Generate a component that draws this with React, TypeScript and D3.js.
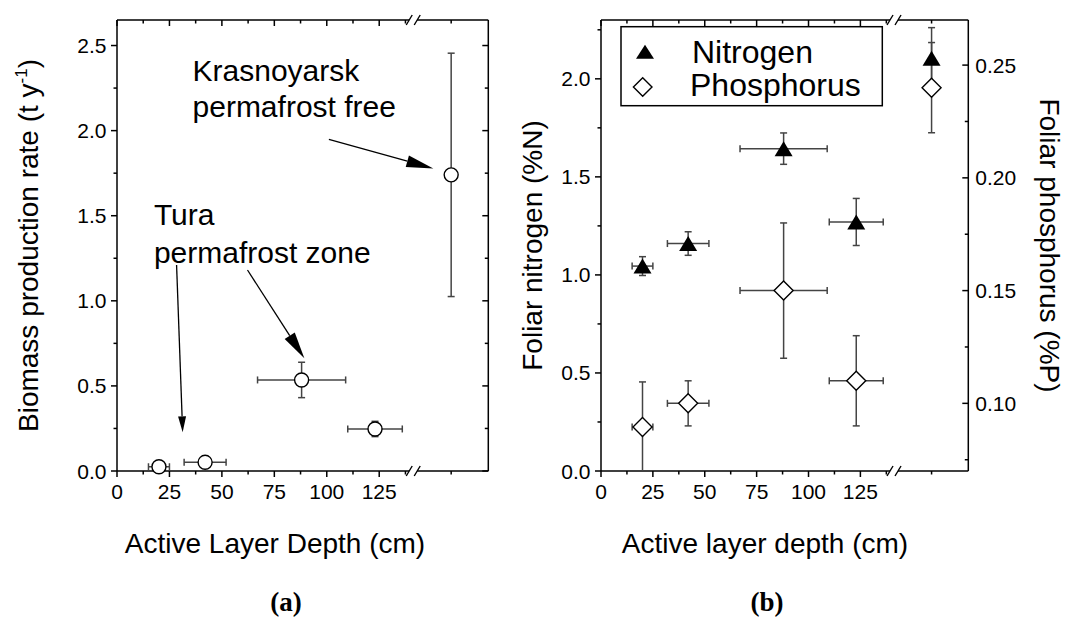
import React from 'react';
import * as d3 from 'd3';

// ---------------- data ----------------
const depthTicks = [0, 25, 50, 75, 100, 125];
const siteDepth = [20, 42, 88, 123];
const siteDepthErr = [5, 10, 21, 13];
const permafrostFreeX = 159.3; // plotted beyond the axis break
const biomass = [0.025, 0.051, 0.535, 0.247, 1.74];
const biomassErr = [0.015, 0.02, 0.104, 0.045, 0.715];
const nitrogen = [1.045, 1.16, 1.644, 1.27, 2.105];
const nitrogenErr = [0.048, 0.06, 0.08, 0.12, 0.156];
const phosphorus = [0.0895, 0.1, 0.15, 0.11, 0.24];
const phosphorusErr = [0.02, 0.01, 0.03, 0.02, 0.02];
const biomassTicks = [0, 0.5, 1.0, 1.5, 2.0, 2.5];
const nitrogenTicks = [0, 0.5, 1.0, 1.5, 2.0];
const phosphorusTicks = [0.1, 0.15, 0.2, 0.25];
const legendLabels = ['Nitrogen', 'Phosphorus'];

// ---------------- layout ----------------
const W = 1065;
const H = 621;
const TOP = 20;
const BOTTOM = 471;
const X_MAX = 177;
const BREAK_AT = 141.2;
const FONT = "'Liberation Sans', Arial, Helvetica, sans-serif";
const SERIF = "'Liberation Serif', 'Times New Roman', serif";
const MAJ = 6;
const MIN = 3.5;
const AX = '#000';
const ERR = '#444';

type Scale = d3.ScaleLinear<number, number>;

function xPoints(): number[] {
  return [...siteDepth, permafrostFreeX];
}

function minorOf(ticks: number[], lo: number, hi: number): number[] {
  const step = (ticks[1] - ticks[0]) / 2;
  const out: number[] = [];
  for (let v = ticks[0] - step; v <= hi + 1e-9; v += step) {
    if (v < lo - 1e-9) continue;
    if (ticks.some((t) => Math.abs(t - v) < 1e-9)) continue;
    out.push(v);
  }
  return out;
}

function BrokenXAxis({ x, y, dir }: { x: Scale; y: number; dir: number }) {
  const [r0, r1] = x.range();
  const bx = x(BREAK_AT);
  const g1 = bx - 4;
  const g2 = bx + 4;
  const minors = minorOf(depthTicks, 0, BREAK_AT - 2);
  return (
    <g>
      <line x1={r0} x2={g1} y1={y} y2={y} stroke={AX} strokeWidth={1.5} />
      <line x1={g2} x2={r1} y1={y} y2={y} stroke={AX} strokeWidth={1.5} />
      {[g1, g2].map((gx, i) => (
        <line key={i} x1={gx - 3} y1={y + 5} x2={gx + 3} y2={y - 5} stroke={AX} strokeWidth={1.4} />
      ))}
      {depthTicks.map((t) => (
        <line key={'M' + t} x1={x(t)} x2={x(t)} y1={y} y2={y + dir * MAJ} stroke={AX} strokeWidth={1.5} />
      ))}
      {minors.map((t) => (
        <line key={'m' + t} x1={x(t)} x2={x(t)} y1={y} y2={y + dir * MIN} stroke={AX} strokeWidth={1.5} />
      ))}
      <line x1={x(permafrostFreeX)} x2={x(permafrostFreeX)} y1={y} y2={y + dir * MIN} stroke={AX} strokeWidth={1.5} />
    </g>
  );
}

function YAxis({ y, ticks, xPos, dir, labels, labelSide, fmt }: {
  y: Scale; ticks: number[]; xPos: number; dir: number; labels: boolean; labelSide: number; fmt: (v: number) => string;
}) {
  const [d0, d1] = y.domain();
  const minors = minorOf(ticks, d0, d1);
  return (
    <g>
      <line x1={xPos} x2={xPos} y1={TOP} y2={BOTTOM} stroke={AX} strokeWidth={1.5} />
      {ticks.map((t) => (
        <line key={'M' + t} x1={xPos} x2={xPos + dir * MAJ} y1={y(t)} y2={y(t)} stroke={AX} strokeWidth={1.5} />
      ))}
      {minors.map((t) => (
        <line key={'m' + t} x1={xPos} x2={xPos + dir * MIN} y1={y(t)} y2={y(t)} stroke={AX} strokeWidth={1.5} />
      ))}
      {labels &&
        ticks.map((t) => (
          <text
            key={'L' + t}
            x={xPos + (labelSide < 0 ? -10.5 : 7)}
            y={y(t) + 7.5}
            textAnchor={labelSide < 0 ? 'end' : 'start'}
            fontSize={21}
            fontFamily={FONT}
          >
            {fmt(t)}
          </text>
        ))}
    </g>
  );
}

function ErrorBars({ cx, cy, ex0, ex1, ey0, ey1 }: { cx: number; cy: number; ex0?: number; ex1?: number; ey0: number; ey1: number }) {
  const c = 3.5;
  return (
    <g stroke={ERR} strokeWidth={1.5}>
      <line x1={cx} x2={cx} y1={ey0} y2={ey1} />
      {ey0 > TOP && ey0 < BOTTOM && <line x1={cx - c} x2={cx + c} y1={ey0} y2={ey0} />}
      {ey1 > TOP && ey1 < BOTTOM && <line x1={cx - c} x2={cx + c} y1={ey1} y2={ey1} />}
      {ex0 !== undefined && ex1 !== undefined && (
        <g>
          <line x1={ex0} x2={ex1} y1={cy} y2={cy} />
          <line x1={ex0} x2={ex0} y1={cy - c} y2={cy + c} />
          <line x1={ex1} x2={ex1} y1={cy - c} y2={cy + c} />
        </g>
      )}
    </g>
  );
}

function Arrow({ x1, y1, x2, y2, len, half }: { x1: number; y1: number; x2: number; y2: number; len: number; half: number }) {
  const a = Math.atan2(y2 - y1, x2 - x1);
  const bx = x2 - len * Math.cos(a);
  const by = y2 - len * Math.sin(a);
  const px = -Math.sin(a) * half;
  const py = Math.cos(a) * half;
  return (
    <g>
      <line x1={x1} y1={y1} x2={bx} y2={by} stroke="#000" strokeWidth={1.3} />
      <path d={`M${x2},${y2}L${bx + px},${by + py}L${bx - px},${by - py}Z`} fill="#000" />
    </g>
  );
}

function triangle(cx: number, cy: number, w: number, h: number) {
  return `M${cx},${cy - h / 2}L${cx + w / 2},${cy + h / 2}L${cx - w / 2},${cy + h / 2}Z`;
}
function diamond(cx: number, cy: number, r: number) {
  return `M${cx},${cy - r}L${cx + r},${cy}L${cx},${cy + r}L${cx - r},${cy}Z`;
}

export default function App() {
  // ---- panel (a)
  const xa = d3.scaleLinear().domain([0, X_MAX]).range([117, 488.3]);
  const ya = d3.scaleLinear().domain([0, 2.65]).range([BOTTOM, TOP]);
  // ---- panel (b)
  const xb = d3.scaleLinear().domain([0, X_MAX]).range([601, 968.3]);
  const yn = d3.scaleLinear().domain([0, 2.3]).range([BOTTOM, TOP]);
  const yp = d3.scaleLinear().domain([0.07, 0.27]).range([BOTTOM, TOP]);

  const xs = xPoints();
  const clampY = (v: number) => Math.max(TOP, Math.min(BOTTOM, v));

  return (
    <svg width={W} height={H} style={{ display: 'block', position: 'absolute', left: 0, top: 0, background: '#fff' }}>
      <rect x={0} y={0} width={W} height={H} fill="#fff" />

      {/* ================= Panel (a) ================= */}
      <BrokenXAxis x={xa} y={BOTTOM} dir={1} />
      <BrokenXAxis x={xa} y={TOP} dir={1} />
      <YAxis y={ya} ticks={biomassTicks} xPos={xa.range()[0]} dir={-1} labels labelSide={-1} fmt={d3.format('.1f')} />
      <YAxis y={ya} ticks={biomassTicks} xPos={xa.range()[1]} dir={-1} labels={false} labelSide={1} fmt={d3.format('.1f')} />
      {depthTicks.map((t) => (
        <text key={'xa' + t} x={xa(t)} y={BOTTOM + 28} textAnchor="middle" fontSize={21} fontFamily={FONT}>
          {t}
        </text>
      ))}

      {biomass.map((v, i) => {
        const cx = xa(xs[i]);
        const cy = ya(v);
        return (
          <ErrorBars
            key={'ea' + i}
            cx={cx}
            cy={cy}
            ex0={i < siteDepth.length ? xa(siteDepth[i] - siteDepthErr[i]) : undefined}
            ex1={i < siteDepth.length ? xa(siteDepth[i] + siteDepthErr[i]) : undefined}
            ey0={clampY(ya(v + biomassErr[i]))}
            ey1={clampY(ya(v - biomassErr[i]))}
          />
        );
      })}
      {biomass.map((v, i) => (
        <circle key={'ca' + i} cx={xa(xs[i])} cy={ya(v)} r={7} fill="#fff" stroke="#000" strokeWidth={1.4} />
      ))}

      {/* annotations */}
      <text fontSize={30} fontFamily={FONT}>
        <tspan x={xa(36)} y={ya(2.29)}>Krasnoyarsk</tspan>
        <tspan x={xa(36)} y={ya(2.078)}>permafrost free</tspan>
      </text>
      <text fontSize={30} fontFamily={FONT}>
        <tspan x={xa(17.6)} y={ya(1.445)}>Tura</tspan>
        <tspan x={xa(17.6)} y={ya(1.222)}>permafrost zone</tspan>
      </text>
      <Arrow x1={xa(101)} y1={ya(1.949)} x2={xa(150.8)} y2={ya(1.778)} len={27} half={6} />
      <Arrow x1={xa(62.2)} y1={ya(1.181)} x2={xa(89.3)} y2={ya(0.662)} len={27} half={6} />
      <Arrow x1={xa(28.4)} y1={ya(1.21)} x2={xa(31.3)} y2={ya(0.227)} len={16} half={4} />

      <text x={275} y={553} textAnchor="middle" fontSize={28} fontFamily={FONT}>
        Active Layer Depth (cm)
      </text>
      <text transform={`translate(38,${(TOP + BOTTOM) / 2}) rotate(-90)`} textAnchor="middle" fontSize={28} fontFamily={FONT}>
        Biomass production rate (t y
        <tspan dy={-11} fontSize={17}>-1</tspan>
        <tspan dy={11}>)</tspan>
      </text>
      <text x={286} y={611} textAnchor="middle" fontSize={27} fontWeight="bold" fontFamily={SERIF}>
        (a)
      </text>

      {/* ================= Panel (b) ================= */}
      <BrokenXAxis x={xb} y={BOTTOM} dir={1} />
      <BrokenXAxis x={xb} y={TOP} dir={1} />
      <YAxis y={yn} ticks={nitrogenTicks} xPos={xb.range()[0]} dir={-1} labels labelSide={-1} fmt={d3.format('.1f')} />
      <YAxis y={yp} ticks={phosphorusTicks} xPos={xb.range()[1]} dir={-1} labels labelSide={1} fmt={d3.format('.2f')} />
      {depthTicks.map((t) => (
        <text key={'xb' + t} x={xb(t)} y={BOTTOM + 28} textAnchor="middle" fontSize={21} fontFamily={FONT}>
          {t}
        </text>
      ))}

      {phosphorus.map((v, i) => {
        const cx = xb(xs[i]);
        return (
          <ErrorBars
            key={'ep' + i}
            cx={cx}
            cy={yp(v)}
            ex0={i < siteDepth.length ? xb(siteDepth[i] - siteDepthErr[i]) : undefined}
            ex1={i < siteDepth.length ? xb(siteDepth[i] + siteDepthErr[i]) : undefined}
            ey0={clampY(yp(v + phosphorusErr[i]))}
            ey1={clampY(yp(v - phosphorusErr[i]))}
          />
        );
      })}
      {nitrogen.map((v, i) => {
        const cx = xb(xs[i]);
        return (
          <ErrorBars
            key={'en' + i}
            cx={cx}
            cy={yn(v)}
            ex0={i < siteDepth.length ? xb(siteDepth[i] - siteDepthErr[i]) : undefined}
            ex1={i < siteDepth.length ? xb(siteDepth[i] + siteDepthErr[i]) : undefined}
            ey0={clampY(yn(v + nitrogenErr[i]))}
            ey1={clampY(yn(v - nitrogenErr[i]))}
          />
        );
      })}
      {phosphorus.map((v, i) => (
        <path key={'dp' + i} d={diamond(xb(xs[i]), yp(v), 9.5)} fill="#fff" stroke="#000" strokeWidth={1.4} />
      ))}
      {nitrogen.map((v, i) => (
        <path key={'tn' + i} d={triangle(xb(xs[i]), yn(v), 18, 15)} fill="#000" />
      ))}

      {/* legend */}
      <rect x={621} y={26.7} width={261.3} height={79} fill="#fff" stroke="#000" strokeWidth={1.5} />
      <path d={triangle(645, 51.7, 18, 14)} fill="#000" />
      <path d={diamond(642.7, 87, 9.3)} fill="#fff" stroke="#000" strokeWidth={1.4} />
      <text x={692} y={62.5} fontSize={32} fontFamily={FONT}>{legendLabels[0]}</text>
      <text x={690} y={96} fontSize={32} fontFamily={FONT}>{legendLabels[1]}</text>

      <text x={765} y={553} textAnchor="middle" fontSize={28} fontFamily={FONT}>
        Active layer depth (cm)
      </text>
      <text transform={`translate(542,${(TOP + BOTTOM) / 2}) rotate(-90)`} textAnchor="middle" fontSize={28} fontFamily={FONT}>
        Foliar nitrogen (%N)
      </text>
      <text transform={`translate(1040,${(TOP + BOTTOM) / 2}) rotate(90)`} textAnchor="middle" fontSize={28} fontFamily={FONT}>
        Foliar phosphorus (%P)
      </text>
      <text x={767} y={611} textAnchor="middle" fontSize={27} fontWeight="bold" fontFamily={SERIF}>
        (b)
      </text>
    </svg>
  );
}
